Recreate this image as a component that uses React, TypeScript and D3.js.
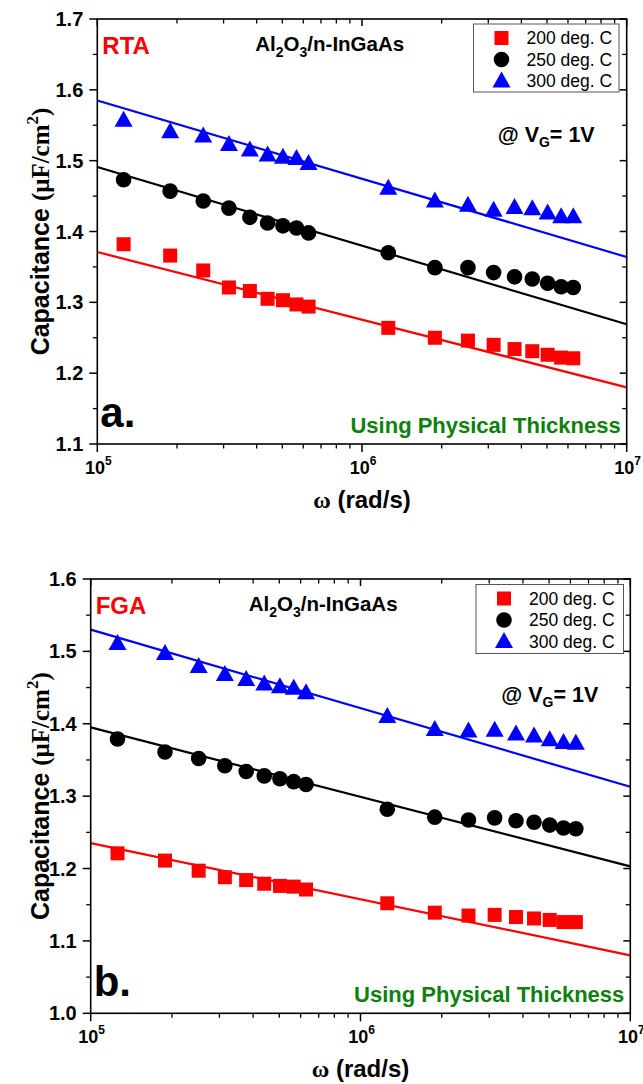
import React from "react";
import * as d3 from "d3";

// angular frequency (rad/s)
const omega = [
  1.257e5, 1.885e5, 2.513e5, 3.142e5, 3.77e5, 4.398e5, 5.027e5, 5.655e5, 6.283e5,
  1.257e6, 1.885e6, 2.513e6, 3.142e6, 3.77e6, 4.398e6, 5.027e6, 5.655e6, 6.283e6,
];

// RTA panel (a)
const rta200 = [1.382, 1.366, 1.345, 1.321, 1.316, 1.305, 1.303, 1.297, 1.294, 1.264, 1.25, 1.246, 1.24, 1.234, 1.231, 1.226, 1.222, 1.221];
const rta250 = [1.473, 1.457, 1.443, 1.433, 1.42, 1.412, 1.408, 1.405, 1.398, 1.37, 1.349, 1.349, 1.342, 1.336, 1.333, 1.327, 1.322, 1.321];
const rta300 = [1.557, 1.541, 1.535, 1.523, 1.515, 1.508, 1.505, 1.503, 1.496, 1.461, 1.443, 1.437, 1.43, 1.434, 1.432, 1.426, 1.421, 1.421];
// fit line values at omega = 1e5 and 1e7
const rtaFit200 = [1.371, 1.18];
const rtaFit250 = [1.491, 1.269];
const rtaFit300 = [1.585, 1.364];

// FGA panel (b)
const fga200 = [1.221, 1.211, 1.197, 1.188, 1.184, 1.179, 1.176, 1.175, 1.171, 1.152, 1.139, 1.135, 1.136, 1.133, 1.131, 1.129, 1.126, 1.126];
const fga250 = [1.379, 1.361, 1.352, 1.342, 1.334, 1.328, 1.324, 1.32, 1.316, 1.282, 1.271, 1.267, 1.27, 1.266, 1.264, 1.26, 1.256, 1.255];
const fga300 = [1.511, 1.497, 1.479, 1.468, 1.461, 1.455, 1.451, 1.449, 1.443, 1.41, 1.392, 1.39, 1.391, 1.386, 1.383, 1.378, 1.374, 1.373];
const fgaFit200 = [1.235, 1.08];
const fgaFit250 = [1.395, 1.203];
const fgaFit300 = [1.53, 1.313];

const fitX = [1e5, 1e7];
const legendLabels = ["200 deg. C", "250 deg. C", "300 deg. C"];
const seriesColors = ["#ff0000", "#000000", "#0000ff"];
const seriesShapes = ["square", "circle", "triangle"];
const xExponents = [5, 6, 7];

const SANS = "'Liberation Sans', Arial, sans-serif";
const SERIF = "'Liberation Serif', 'Times New Roman', serif";
const GREEN = "#0d800d";

function Marker({ shape, x, y, color }: { shape: string; x: number; y: number; color: string }) {
  if (shape === "square") return <rect x={x - 7} y={y - 7} width={14} height={14} fill={color} />;
  if (shape === "circle") return <circle cx={x} cy={y} r={7.8} fill={color} />;
  const p = d3.path();
  p.moveTo(x, y - 9.5);
  p.lineTo(x + 9, y + 6.5);
  p.lineTo(x - 9, y + 6.5);
  p.closePath();
  return <path d={p.toString()} fill={color} />;
}

type PanelProps = {
  top: number;
  left: number;
  right: number;
  bottom: number;
  yMin: number;
  yMax: number;
  series: number[][];
  fits: number[][];
  tag: string;
  letter: string;
  legendBox: { x: number; y: number; w: number; h: number };
};

function Panel(props: PanelProps) {
  const { top, left, right, bottom, yMin, yMax, series, fits, tag, letter, legendBox } = props;
  const x = d3.scaleLog().domain([1e5, 1e7]).range([left, right]);
  const y = d3.scaleLinear().domain([yMin, yMax]).range([bottom, top]);
  const majorY = d3.range(0, 7).map((i) => +(yMin + i * 0.1).toFixed(2));
  const minorY = d3.range(0, 6).map((i) => +(yMin + 0.05 + i * 0.1).toFixed(3));
  const minorX: number[] = [];
  [1e5, 1e6].forEach((dec) => {
    for (let k = 2; k <= 9; k++) minorX.push(dec * k);
  });
  const line = d3
    .line<number>()
    .x((_, i) => x(fitX[i]))
    .y((v) => y(v));
  const midX = (left + right) / 2;
  const midY = (top + bottom) / 2;
  return (
    <g>
      {fits.map((f, i) => (
        <path key={"f" + i} d={line(f) || ""} stroke={seriesColors[i]} strokeWidth={2.2} fill="none" />
      ))}
      {series.map((s, si) =>
        s.map((v, i) => (
          <Marker key={si + "-" + i} shape={seriesShapes[si]} x={x(omega[i])} y={y(v)} color={seriesColors[si]} />
        ))
      )}
      <rect x={left} y={top} width={right - left} height={bottom - top} fill="none" stroke="#000" strokeWidth={1.6} />
      {majorY.map((v) => (
        <g key={"my" + v}>
          <line x1={left - 8} x2={left} y1={y(v)} y2={y(v)} stroke="#000" strokeWidth={1.5} />
          <line x1={right - 7} x2={right} y1={y(v)} y2={y(v)} stroke="#000" strokeWidth={1.5} />
          <text x={left - 14} y={y(v) + 7} textAnchor="end" fontFamily={SANS} fontWeight="bold" fontSize={20}>
            {v.toFixed(1)}
          </text>
        </g>
      ))}
      {minorY.map((v) => (
        <g key={"ny" + v}>
          <line x1={left - 4.5} x2={left} y1={y(v)} y2={y(v)} stroke="#000" strokeWidth={1.3} />
          <line x1={right - 4.5} x2={right} y1={y(v)} y2={y(v)} stroke="#000" strokeWidth={1.3} />
        </g>
      ))}
      {xExponents.map((e) => {
        const xv = x(Math.pow(10, e));
        return (
          <g key={"mx" + e}>
            <line x1={xv} x2={xv} y1={bottom} y2={bottom + 8} stroke="#000" strokeWidth={1.5} />
            <line x1={xv} x2={xv} y1={top} y2={top + 7} stroke="#000" strokeWidth={1.5} />
            <text x={xv + 1} y={bottom + 30} textAnchor="middle" fontFamily={SANS} fontWeight="bold" fontSize={18}>
              10
              <tspan dy={-9} fontSize={12}>
                {e}
              </tspan>
            </text>
          </g>
        );
      })}
      {minorX.map((v) => (
        <g key={"nx" + v}>
          <line x1={x(v)} x2={x(v)} y1={bottom} y2={bottom + 4.5} stroke="#000" strokeWidth={1.3} />
          <line x1={x(v)} x2={x(v)} y1={top} y2={top + 4.5} stroke="#000" strokeWidth={1.3} />
        </g>
      ))}
      <text x={midX} y={bottom + 64} textAnchor="middle" fontWeight="bold" fontSize={24}>
        <tspan fontFamily={SERIF}>ω</tspan>
        <tspan fontFamily={SANS}> (rad/s)</tspan>
      </text>
      <text transform={`translate(49,${midY}) rotate(-90)`} textAnchor="middle" fontWeight="bold" fontSize={25}>
        <tspan fontFamily={SANS}>Capacitance </tspan>
        <tspan fontFamily={SERIF}>(μF/cm</tspan>
        <tspan fontFamily={SERIF} fontSize={17} dy={-11}>
          2
        </tspan>
        <tspan fontFamily={SERIF} dy={11}>
          )
        </tspan>
      </text>
      <text x={left + 5} y={top + 35} fill="#ff0000" fontFamily={SANS} fontWeight="bold" fontSize={24}>
        {tag}
      </text>
      <text x={left + 158} y={top + 32} fontFamily={SANS} fontWeight="bold" fontSize={20.5}>
        Al
        <tspan dy={6} fontSize={14}>
          2
        </tspan>
        <tspan dy={-6}>O</tspan>
        <tspan dy={6} fontSize={14}>
          3
        </tspan>
        <tspan dy={-6}>/n-InGaAs</tspan>
      </text>
      <text x={right - 129} y={top + 123} fontFamily={SANS} fontWeight="bold" fontSize={21.5}>
        @ V
        <tspan dy={5} fontSize={14}>
          G
        </tspan>
        <tspan dy={-5}>= 1V</tspan>
      </text>
      <text x={left + 3} y={bottom - 17} fontFamily={SANS} fontWeight="bold" fontSize={42}>
        {letter}
      </text>
      <text x={right - 6} y={bottom - 11} textAnchor="end" fill={GREEN} fontFamily={SANS} fontWeight="bold" fontSize={22}>
        Using Physical Thickness
      </text>
      <rect x={legendBox.x} y={legendBox.y} width={legendBox.w} height={legendBox.h} fill="#fff" stroke="#555" strokeWidth={1} />
      {legendLabels.map((lab, i) => {
        const ly = legendBox.y + 14 + i * 21.5;
        return (
          <g key={"lg" + i}>
            <Marker shape={seriesShapes[i]} x={legendBox.x + 28} y={ly} color={seriesColors[i]} />
            <text x={legendBox.x + 53} y={ly + 6} fontFamily={SANS} fontSize={17.5}>
              {lab}
            </text>
          </g>
        );
      })}
    </g>
  );
}

export default function App() {
  return (
    <svg width={643} height={1084} style={{ position: "absolute", left: 0, top: 0, background: "#fff" }}>
      <rect width={643} height={1084} fill="#fff" />
      <Panel
        top={19}
        left={97.3}
        right={626.7}
        bottom={444}
        yMin={1.1}
        yMax={1.7}
        series={[rta200, rta250, rta300]}
        fits={[rtaFit200, rtaFit250, rtaFit300]}
        tag="RTA"
        letter="a."
        legendBox={{ x: 473.5, y: 24, w: 145.5, h: 68 }}
      />
      <Panel
        top={579}
        left={90.7}
        right={630.3}
        bottom={1013.3}
        yMin={1.0}
        yMax={1.6}
        series={[fga200, fga250, fga300]}
        fits={[fgaFit200, fgaFit250, fgaFit300]}
        tag="FGA"
        letter="b."
        legendBox={{ x: 476, y: 584.5, w: 147.5, h: 69 }}
      />
    </svg>
  );
}
